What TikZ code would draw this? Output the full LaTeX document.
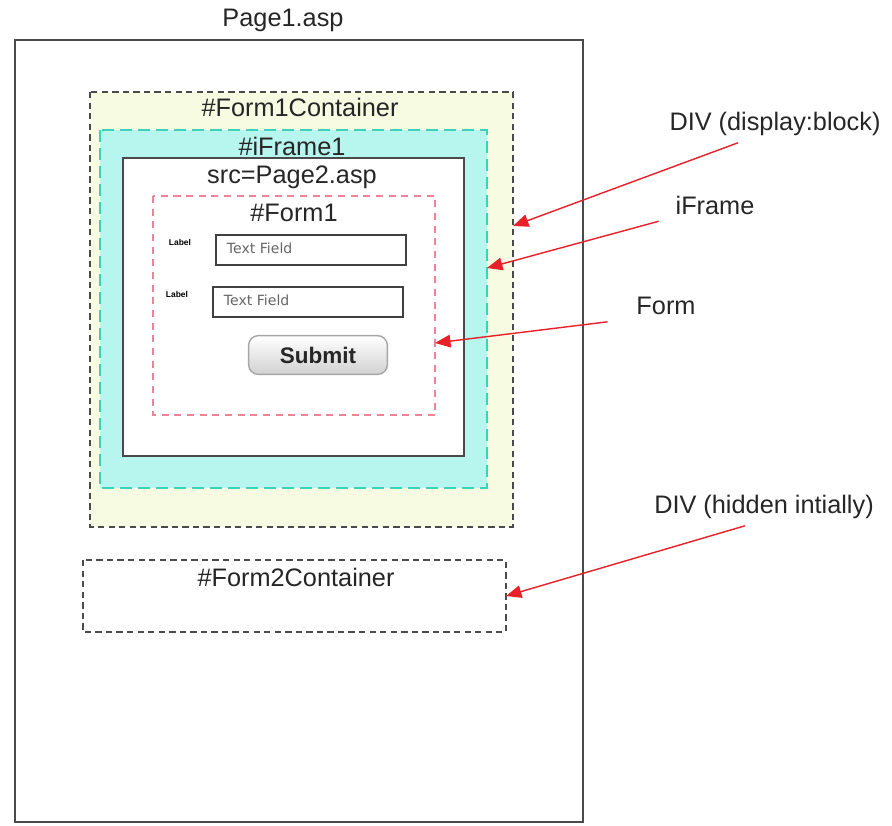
\documentclass[tikz,border=0pt]{standalone}
\usepackage{fontspec}
\setmainfont{Liberation Sans}
\newfontfamily\uifont{DejaVu Sans}
\usepackage{xcolor}
\usetikzlibrary{positioning,calc,arrows.meta}

\definecolor{divfill}{HTML}{F7FBE2}
\definecolor{framefill}{HTML}{B6F6EE}
\definecolor{frameline}{HTML}{3CD3B4}
\definecolor{formline}{HTML}{F08296}
\definecolor{callred}{HTML}{E8202A}
\definecolor{boxline}{HTML}{4A4A4A}

\tikzset{
	bigtxt/.style={font=\fontsize{18}{20}\selectfont, text=black!85},
	divbox/.style={draw=boxline, line width=2pt, dash pattern=on 4.5pt off 3pt},
	callout/.style={draw=callred, line width=1pt, -{Triangle[length=11pt,width=9pt]}},
	fieldbox/.style={draw=black!75, line width=1.4pt, fill=white},
}

\begin{document}
\begin{tikzpicture}[x=0.025cm,y=-0.025cm]
	\useasboundingbox (0,0) rectangle (892,825);
	
	\draw[boxline, line width=1.6pt] (15,40) rectangle (583,822);
	\node[bigtxt] (pagetitle) at (283,20) {Page1.asp};
	
	\draw[divbox, fill=divfill] (90,92) rectangle (513,527);
	\node[bigtxt] (div1title) at (300,107) {\#Form1Container};
	
	\draw[frameline, fill=framefill, line width=1.2pt, dash pattern=on 8.5pt off 4.3pt] (100,130) rectangle (487,488);
	\node[bigtxt] (frametitle) at (292,146) {\#iFrame1};
	
	\draw[boxline, line width=1.5pt, fill=white] (123,158) rectangle (464,456);
	\node[bigtxt] (srctitle) at (292,177) {src=Page2.asp};
	
	\draw[formline, line width=1.5pt, dash pattern=on 5pt off 4pt] (153,196) rectangle (435,415);
	\node[bigtxt] (formtitle) at (294,213) {\#Form1};
	
	\foreach \i/\x/\y in {1/216/250, 2/213/302} {
		\draw[fieldbox] (\x,\y-15) rectangle (\x+190,\y+15);
		\node[anchor=west, font=\uifont\fontsize{10}{11}\selectfont, text=black!60] (field\i) at (\x+6,\y-2) {Text Field};
		\node[font=\bfseries\fontsize{6}{7}\selectfont] (fieldlbl\i) at (\x-36,\y-8) {Label};
	}
	
	\node[draw=black!35, line width=1pt, rounded corners=7pt, top color=white, bottom color=black!18,
		minimum width=3.47cm, minimum height=0.97cm, font=\bfseries\fontsize{16}{18}\selectfont, text=black!85] (submitbtn) at (318,355) {Submit};
	
	\draw[divbox] (83,560) rectangle (506,632);
	\node[bigtxt] (div2title) at (296,577) {\#Form2Container};
	
	\node[bigtxt] (divnote) at (775,124) {DIV (display:block)};
	\node[bigtxt] (ifrnote) at (715,205) {iFrame};
	\node[bigtxt] (formnote) at (666,306) {Form};
	\node[bigtxt] (hidnote) at (764,507) {DIV (hidden intially)};
	
	\coordinate (div1tip) at (513,226);
	\coordinate (frametip) at (487,268);
	\coordinate (formtip) at (435,343);
	\coordinate (div2tip) at (506,596);
	
	\draw[callout] ($(divnote.south)+(-37,2)$) -- (div1tip);
	\draw[callout] ($(ifrnote.south west)+(-12,2)$) -- (frametip);
	\draw[callout] ($(formnote.south west)+(-24,2)$) -- (formtip);
	\draw[callout] ($(hidnote.south)+(-19,2)$) -- (div2tip);
\end{tikzpicture}
\end{document}
